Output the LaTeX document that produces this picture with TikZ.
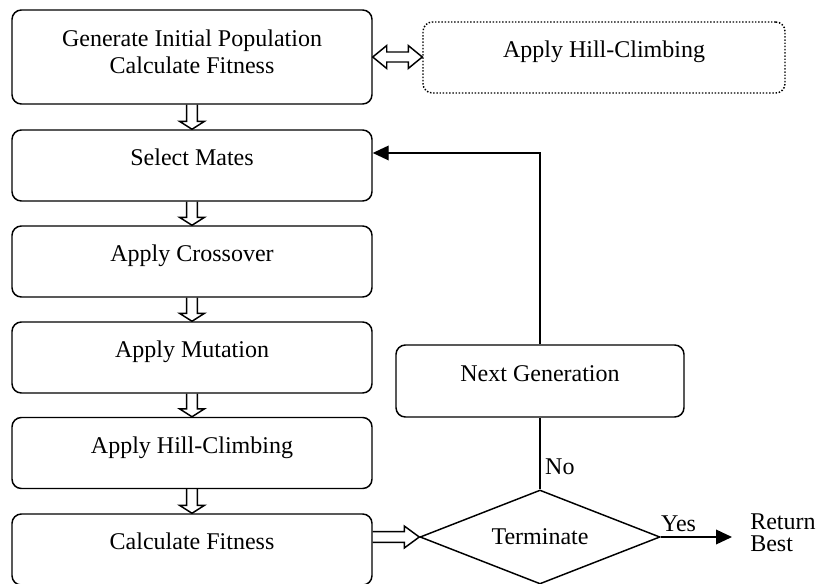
\documentclass[tikz,border=0pt]{standalone}
\usepackage{fontspec}
\setmainfont{Liberation Serif}
\usetikzlibrary{arrows.meta,calc,shapes.geometric}

\tikzset{
  stage/.style={draw,line width=1.1pt,rounded corners=7pt,minimum width=270pt,
    minimum height=53.25pt,text height=12pt,text depth=12pt,inner sep=0pt},
  conn/.style={line width=1.1pt},
}

% hollow block arrows between two stages
\newcommand{\hollowdown}[2]{%
  \draw[conn] let \p1=(#1.south), \p2=(#2.north) in
    (\x1-4.1pt,\y1) -- (\x1-4.1pt,\y2+6pt) -- (\x1-9.4pt,\y2+6pt) -- (\x1,\y2)
    -- (\x1+9.4pt,\y2+6pt) -- (\x1+4.1pt,\y2+6pt) -- (\x1+4.1pt,\y1);}
\newcommand{\hollowboth}[2]{%
  \draw[conn] let \p1=(#1.east), \p2=(#2.west) in
    (\x1,\y1) -- (\x1+10.5pt,\y1+8.6pt) -- (\x1+10.5pt,\y1+3.75pt) -- (\x2-10.5pt,\y1+3.75pt)
    -- (\x2-10.5pt,\y1+8.6pt) -- (\x2,\y1) -- (\x2-10.5pt,\y1-8.6pt) -- (\x2-10.5pt,\y1-3.75pt)
    -- (\x1+10.5pt,\y1-3.75pt) -- (\x1+10.5pt,\y1-8.6pt) -- cycle;}
\newcommand{\hollowright}[2]{%
  \draw[conn] let \p1=(#1.east), \p2=(#2.west) in
    (\x1,\y2+4.1pt) -- (\x2-11.25pt,\y2+4.1pt) -- (\x2-11.25pt,\y2+8.25pt) -- (\x2,\y2)
    -- (\x2-11.25pt,\y2-8.25pt) -- (\x2-11.25pt,\y2-4.1pt) -- (\x1,\y2-4.1pt);}

\begin{document}
\begin{tikzpicture}[x=0.75pt,y=-0.75pt,>={Triangle[length=12pt,width=11pt]},
    font=\fontsize{18}{20.25}\selectfont]
  \useasboundingbox (0,0) rectangle (818,583);

  \node[stage,minimum height=70.5pt,text depth=28.5pt] (init) at (192,57)
    {\begin{tabular}[t]{@{}c@{}}Generate Initial Population\\Calculate Fitness\end{tabular}};
  \foreach \y/\n/\txt in {165.5/mates/Select Mates,261.5/cross/Apply Crossover,
      357.5/mut/Apply Mutation,453/hill/Apply Hill-Climbing,549.5/calc/Calculate Fitness}
    \node[stage] (\n) at (192,\y) {\txt};

  \node[stage,minimum width=271.5pt,dash pattern=on 1.1pt off 1.3pt] (hc) at (604,57.5)
    {Apply Hill-Climbing};
  \node[stage,minimum width=216pt,minimum height=54pt] (next) at (540,381) {Next Generation};
  \node[draw,conn,diamond,aspect=2.55,minimum width=180pt,minimum height=70.5pt,inner sep=0pt]
    (term) at (540,537) {Terminate};
  \node[align=left,font=\fontsize{18}{16.5}\selectfont,anchor=west,inner xsep=13.5pt,inner ysep=0pt]
    (ret) at (732,533) {Return\\Best};

  \foreach \a/\b in {init/mates,mates/cross,cross/mut,mut/hill,hill/calc}
    \hollowdown{\a}{\b};
  \hollowboth{init}{hc}
  \hollowright{calc}{term}

  \draw[conn] (term.north) -- (next.south) node[pos=0.32,right] {No};
  \draw[conn,->] (next.north) |- ([yshift=9.4pt]mates.east);
  \draw[conn,->] (term.east) -- (term.east -| ret.west) node[pos=0.25,above] {Yes};
\end{tikzpicture}
\end{document}
